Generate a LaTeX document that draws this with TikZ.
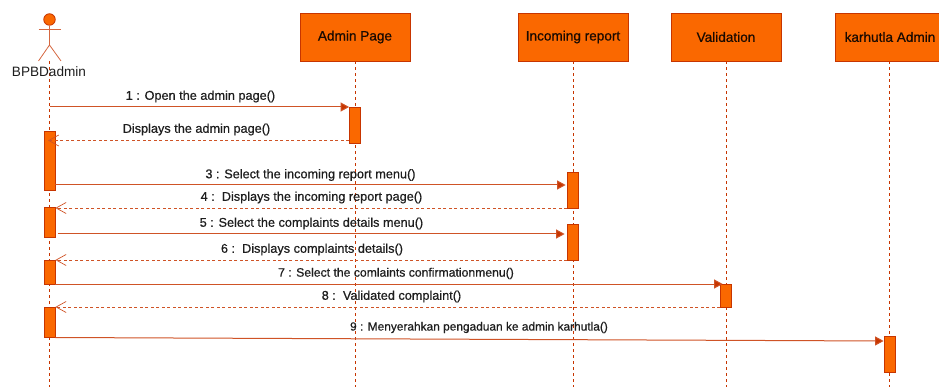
\documentclass[tikz,border=0pt]{standalone}
\usepackage{fontspec}
\setmainfont{Liberation Sans}
\newfontfamily\labfont[FakeBold=0.6]{Liberation Sans}
\usetikzlibrary{arrows.meta}
\definecolor{ofill}{HTML}{FA6800}
\definecolor{ostroke}{HTML}{C73500}
\definecolor{otext}{HTML}{1E1E1E}
\tikzset{
  x=1pt,y=-1pt,
  head/.style={draw=ostroke,fill=ofill,line width=.8pt,minimum width=110pt,minimum height=48pt,inner sep=0pt,font=\labfont\fontsize{13.6}{15}\selectfont,text=black!90!ofill},
  act/.style={draw=ostroke,fill=ofill,line width=.8pt,minimum width=11pt,inner sep=0pt},
  life/.style={draw=ostroke,line width=.7pt,dash pattern=on 3pt off 3pt},
  msg/.style={draw=ostroke!85!white,line width=1pt,-{Triangle[length=8.5pt,width=9pt,fill=ostroke]}},
  ret/.style={draw=ostroke!85!white,line width=.9pt,dash pattern=on 3pt off 2.5pt,-{Straight Barb[length=10pt,width=11pt,line width=.7pt]}},
  lab/.style={font=\labfont\fontsize{12.7}{14}\selectfont,text=otext,inner sep=0pt},
  stick/.style={draw=ostroke!75!white,line width=.8pt},
}
\newcommand{\actbox}[4]{\node[act,minimum height=#4 pt-#3 pt] (#1) at (#2,{(#3+#4)/2}) {};}
\begin{document}
\begin{tikzpicture}
\useasboundingbox (0,0) rectangle (939,387);
% lifeline ends
\coordinate (e0) at (49.5,387);
\coordinate (e1) at (355,387);
\coordinate (e2) at (573,387);
\coordinate (e3) at (726,387);
\coordinate (e4) at (889.5,387);
% actor
\node[circle,draw=ostroke,fill=ofill,line width=.8pt,minimum size=11.5pt,inner sep=0pt] (ahead) at (49.5,19.5) {};
\coordinate (aarml) at (38.5,29);
\coordinate (aarmr) at (61,29);
\coordinate (ahip) at (49.5,45);
\coordinate (alegl) at (38.5,61);
\coordinate (alegr) at (61,61);
\draw[stick] (ahead) -- (ahip);
\draw[stick] (aarml) -- (aarmr);
\draw[stick] (alegl) -- (ahip) -- (alegr);
\draw[life] (49.5,61) -- (e0);
\node[font=\fontsize{13.6}{15}\selectfont,text=otext,inner sep=0pt] (alabel) at (49,71.5) {BPBDadmin};
% heads
\node[head] (h1) at (355,37) {Admin Page};
\node[head] (h2) at (573,37) {Incoming report};
\node[head] (h3) at (726,37) {Validation};
\node[head] (h4) at (890,37) {karhutla Admin};
% lifelines
\draw[life] (h1.south) -- (e1);
\draw[life] (h2.south) -- (e2);
\draw[life] (h3.south) -- (e3);
\draw[life] (h4.south -| e4) -- (e4);
% activations
\actbox{a1}{49.5}{131}{190}
\actbox{a2}{49.5}{207}{237}
\actbox{a3}{49.5}{260}{284}
\actbox{a4}{49.5}{307}{337}
\actbox{b1}{355}{107}{143}
\actbox{c1}{573}{172}{208}
\actbox{c2}{573}{224}{260}
\actbox{d1}{726}{284}{307}
\actbox{f1}{889.5}{336}{372}
% message heights
\coordinate (m1) at (0,107);
\coordinate (m2) at (0,140.5);
\coordinate (m3) at (0,185);
\coordinate (m4) at (0,208);
\coordinate (m5) at (0,234);
\coordinate (m6) at (0,260);
\coordinate (m7) at (0,284);
\coordinate (m8) at (0,307);
\coordinate (m9a) at (0,337.5);
\coordinate (m9b) at (0,341);
% messages
\draw[msg] (e0 |- m1) -- (b1.west |- m1);
\draw[ret,shorten >=-7.4pt] (b1.west |- m2) -- (a1.east |- m2);
\draw[msg,shorten >=1.5pt] (a1.east |- m3) -- (c1.west |- m3);
\draw[ret] (c1.west |- m4) -- (a2.east |- m4);
\draw[msg,shorten <=2.5pt,shorten >=2.5pt] (a2.east |- m5) -- (c2.west |- m5);
\draw[ret] (c2.west |- m6) -- (a3.east |- m6);
\draw[msg,shorten >=-2.5pt] (a3.east |- m7) -- (d1.west |- m7);
\draw[ret] (d1.west |- m8) -- (a4.east |- m8);
\draw[msg] (a4.east |- m9a) -- (f1.west |- m9b);
% labels
\node[lab] (l1) at (200.5,96.5) {1 : Open the admin page()};
\node[lab] (l2) at (196.5,129.5) {Displays the admin page()};
\node[lab] (l3) at (310.5,175) {3 : Select the incoming report menu()};
\node[lab] (l4) at (311.5,197.5) {4 :\ \ Displays the incoming report page()};
\node[lab] (l5) at (311.5,223.5) {5 : Select the complaints details menu()};
\node[lab] (l6) at (312,249.5) {6 :\ \ Displays complaints details()};
\node[lab,font=\labfont\fontsize{12.2}{14}\selectfont] (l7) at (396,273.5) {7 : Select the comlaints confirmationmenu()};
\node[lab] (l8) at (391.5,296.5) {8 :\ \ Validated complaint()};
\node[lab,font=\labfont\fontsize{11.9}{14}\selectfont] (l9) at (479,327.5) {9 : Menyerahkan pengaduan ke admin karhutla()};
\end{tikzpicture}
\end{document}
